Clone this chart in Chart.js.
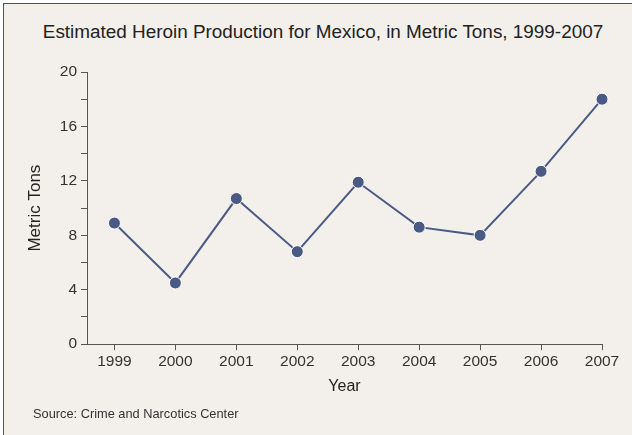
<!DOCTYPE html>
<html>
<head>
<meta charset="utf-8">
<script src="https://cdn.jsdelivr.net/npm/chart.js@4"></script>
<style>
  body { margin: 0; background: #fff; }
  #frame {
    position: absolute; left: 3px; top: 3px; width: 700px; height: 500px;
    background: #f3f0eb; border-left: 1px solid #555; border-top: 1px solid #555;
  }
  #wrap { position: absolute; left: 0; top: 0; width: 632px; height: 435px; }
  #title {
    position: absolute; left: 23px; width: 600px; top: 21px; text-align: center;
    font: 18.9px "Liberation Sans", Arial, sans-serif; color: #222; white-space: nowrap;
  }
  #source {
    position: absolute; left: 33px; top: 406px;
    font: 12.8px "Liberation Sans", Arial, sans-serif; color: #333;
  }
</style>
</head>
<body>
<div id="frame"></div>
<div id="title">Estimated Heroin Production for Mexico, in Metric Tons, 1999-2007</div>
<div id="wrap"><canvas id="myChart" width="632" height="435"></canvas></div>
<div id="source">Source: Crime and Narcotics Center</div>
<script>
const years = [1999, 2000, 2001, 2002, 2003, 2004, 2005, 2006, 2007];
const metricTons = [8.9, 4.5, 10.7, 6.8, 11.9, 8.6, 8.0, 12.7, 18.0];
const yTicks = [0, 4, 8, 12, 16, 20];

const FONT = '"Liberation Sans", Arial, sans-serif';
const lineColor = '#4b5a85';
const axisColor = '#555';

const ctx = document.getElementById('myChart').getContext('2d');
new Chart(ctx, {
  type: 'line',
  data: {
    datasets: [{
      data: years.map((y, i) => ({ x: y, y: metricTons[i] })),
      borderColor: lineColor,
      borderWidth: 2,
      backgroundColor: lineColor,
      pointRadius: 6,
      pointBorderColor: '#fff',
      pointBorderWidth: 1,
      tension: 0,
      clip: false
    }]
  },
  options: {
    responsive: false,
    animation: false,
    layout: { padding: { left: 22, right: 30, top: 72, bottom: 39 } },
    plugins: {
      legend: { display: false },
      tooltip: { enabled: false },
      title: { display: false }
    },
    scales: {
      x: {
        type: 'linear',
        min: 1998.55,
        max: 2007,
        afterBuildTicks: (axis) => { axis.ticks = years.map(v => ({ value: v })); },
        ticks: {
          color: '#333',
          font: { family: FONT, size: 15.5 },
          padding: 2,
          maxRotation: 0,
          callback: (v) => String(v)
        },
        grid: { display: true, drawOnChartArea: false, drawTicks: true, tickLength: 6, color: axisColor },
        border: { display: true, color: axisColor, width: 1 },
        title: {
          display: true, text: 'Year', color: '#222',
          font: { family: FONT, size: 16 }, padding: { top: 4, bottom: 0 }
        }
      },
      y: {
        min: 0,
        max: 20,
        afterFit: (axis) => { axis.width = 65; },
        ticks: {
          stepSize: 2,
          color: '#333',
          font: { family: FONT, size: 15.5 },
          padding: 4,
          callback: (v) => yTicks.includes(v) ? String(v) : ''
        },
        grid: { display: true, drawOnChartArea: false, drawTicks: true, tickLength: 6, color: axisColor },
        border: { display: true, color: axisColor, width: 1 },
        title: {
          display: true, text: 'Metric Tons', color: '#222',
          font: { family: FONT, size: 17 }, padding: { top: 3, bottom: 0 }
        }
      }
    }
  }
});
</script>
</body>
</html>
